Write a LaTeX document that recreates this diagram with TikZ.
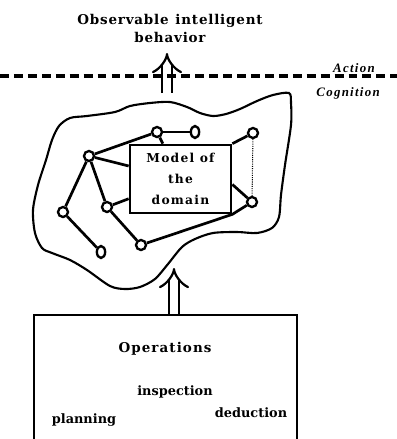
\documentclass[tikz,border=0pt]{standalone}
\usepackage{fontspec}
\setmainfont{DejaVu Serif}
\newfontfamily\layerfont{Liberation Serif}
\usetikzlibrary{arrows.meta,shapes.geometric}

\tikzset{
  junction/.style={circle,draw,fill=white,line width=2pt,inner sep=0pt,minimum size=0.3cm},
  endpoint/.style={ellipse,draw,fill=white,line width=2pt,inner sep=0pt,minimum width=0.25cm,minimum height=0.36cm},
  link/.style={line width=2.3pt},
  heading/.style={font=\fontsize{11.5}{15.3}\selectfont\bfseries\addfontfeatures{LetterSpace=6},align=center,inner sep=0pt},
  boxlabel/.style={font=\fontsize{10.5}{18}\selectfont\bfseries\addfontfeatures{LetterSpace=10},align=center},
  oplabel/.style={font=\fontsize{11}{13}\selectfont\bfseries,inner sep=0pt},
  level/.style={font=\fontsize{11}{13}\selectfont\layerfont\bfseries\itshape\addfontfeatures{LetterSpace=10},inner sep=0pt},
  hollow/.style={double,double distance=0.25cm,line width=1.9pt,-{Implies}}
}

\begin{document}
\begin{tikzpicture}[x=0.03cm,y=-0.03cm]
  \useasboundingbox (0,0) rectangle (397,439);
  \clip (0,0) rectangle (397,439);

  \node[heading,anchor=south] (title) at (170,43) {Observable\enspace intelligent\\behavior};
  \node[level,anchor=base east] (action) at (375,72) {Action};
  \node[level,anchor=base east] (cognition) at (380,96) {Cognition};

  \draw[line width=1.8pt] plot[smooth cycle] coordinates {
    (170,102) (150,103) (130,106) (115,112) (87,116) (70,118) (59,126) (52,140)
    (46,160) (38,185) (33,210) (35,233) (42,248) (52,253) (70,260) (87,270)
    (110,286) (125,289) (140,287) (155,279) (168,264) (182,247) (195,239) (213,233)
    (237,232) (257,233) (272,228) (279,217) (281,195) (285,165) (291,125) (291,103)
    (289,93) (273,95) (257,101) (240,109) (226,114) (213,116) (200,113) (187,107)};

  \node[draw,line width=2.3pt,minimum width=3.03cm,minimum height=2.04cm,boxlabel] (model) at (180.5,179) {Model of\\the\\domain};

  \node[junction] (lhub) at (89,156) {};
  \node[junction] (thub) at (157,132) {};
  \node[endpoint] (tend) at (195,132) {};
  \node[junction] (rtop) at (253,133) {};
  \node[junction] (rbot) at (252,202) {};
  \node[junction] (lmid) at (63,212) {};
  \node[endpoint] (lend) at (101,252) {};
  \node[junction] (cmid) at (107,207) {};
  \node[junction] (cbot) at (141,245) {};

  \draw[link] (lhub) -- (thub);
  \draw[link] (thub) -- (tend);
  \draw[link] (thub) -- (model);
  \draw[link] (lhub) -- (model);
  \draw[link] (lhub) -- (lmid);
  \draw[link] (lmid) -- (lend);
  \draw[link] (lhub) -- (cmid);
  \draw[link] (cmid) -- (model);
  \draw[link] (cmid) -- (cbot);
  \draw[link] (cbot) -- (model.south east) -- (rbot);
  \draw[link] (rbot) -- (model.-6);
  \draw[link] (rtop) -- (model.north east);
  \draw[line width=0.9pt,densely dotted] (rtop) -- (rbot);

  \node[draw,line width=2.3pt,minimum width=7.89cm,minimum height=4.65cm,inner sep=0pt] (ops) at (165.5,392.5) {};
  \node[oplabel,font=\fontsize{11.5}{14}\selectfont\bfseries\addfontfeatures{LetterSpace=8},anchor=base] (opstitle) at (165,352) {Operations};
  \node[oplabel,anchor=base] (inspection) at (175,395) {inspection};
  \node[oplabel,anchor=base] (deduction) at (251,417) {deduction};
  \node[oplabel,anchor=base] (planning) at (84,423) {planning};

  \coordinate (cogtop) at (167,93);
  \coordinate (cogbot) at (174,268);
  \draw[hollow] (cogtop) -- (cogtop |- title.south) [shorten >=0.3cm];
  \draw[hollow] (ops.north -| cogbot) -- (cogbot);

  \draw[line width=2.6pt,dash pattern=on 7.6pt off 4.3pt] (0,76) -- (397,76);
\end{tikzpicture}
\end{document}
